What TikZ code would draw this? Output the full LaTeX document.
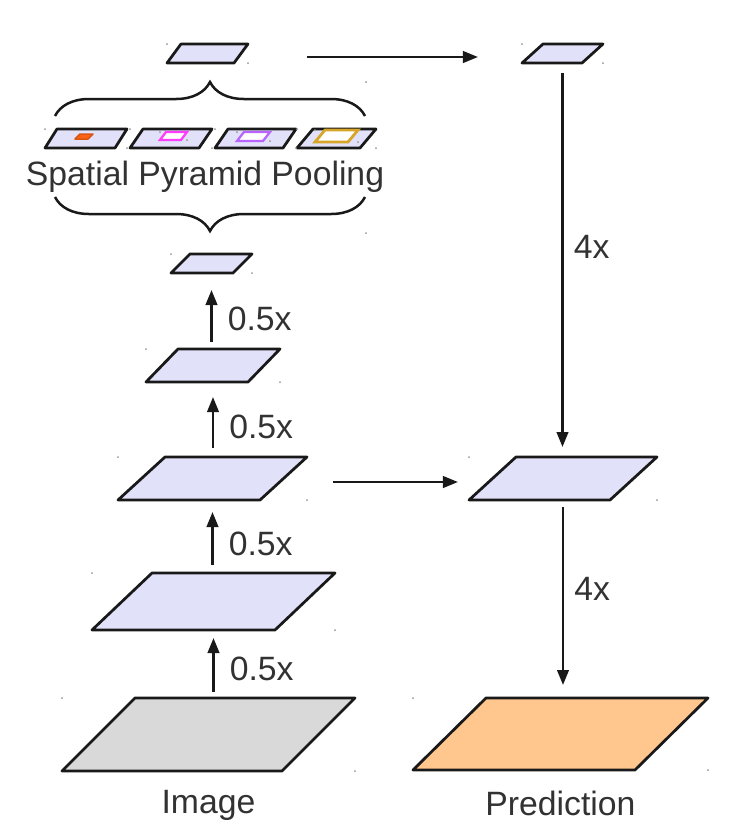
\documentclass[tikz,border=0pt]{standalone}
\usepackage{fontspec}
\setmainfont{Liberation Sans}
\usetikzlibrary{positioning,arrows.meta,decorations.pathreplacing}
\definecolor{featfill}{RGB}{225,225,250}
\definecolor{imgfill}{RGB}{217,217,217}
\definecolor{predfill}{RGB}{255,198,142}
\definecolor{edgec}{RGB}{25,25,25}
\definecolor{txtc}{RGB}{50,50,50}
\definecolor{dotc}{RGB}{150,150,150}
\definecolor{binA}{RGB}{255,100,20}
\definecolor{binB}{RGB}{255,60,255}
\definecolor{binC}{RGB}{185,100,255}
\definecolor{binD}{RGB}{215,165,40}

\begin{document}
\begin{tikzpicture}[x=0.2mm,y=-0.2mm,
    lay/.style={inner sep=0pt,outer sep=0pt},
    arr/.style={draw=edgec,line width=0.5mm,-{Triangle[length=3mm,width=2.3mm]}},
    lbl/.style={text=txtc,font=\fontsize{19.2}{23}\selectfont,inner sep=0pt},
    brc/.style={draw=edgec,line width=0.5mm,decorate,decoration={brace,amplitude=6.8mm}}]
    \useasboundingbox (0,0) rectangle (750,836);

    % encoder column
    \node[lay,minimum width=58.6mm,minimum height=14.6mm] (img) at (208.5,734.5){};
    \node[lay,minimum width=48.6mm,minimum height=11.4mm] (f1) at (213.5,601.5){};
    \node[lay,minimum width=37.8mm,minimum height=8.6mm] (f2) at (212.5,478.5){};
    \node[lay,minimum width=26.8mm,minimum height=6.6mm] (f3) at (213,365.5){};
    \node[lay,minimum width=16.2mm,minimum height=3.8mm] (f4) at (211.5,263.5){};
    \node[lay,minimum width=16.2mm,minimum height=3.8mm] (pool) at (207.5,53.5){};

    % pyramid bins
    \node[lay,minimum width=16.4mm,minimum height=3.8mm] (s1) at (86,138.5){};
    \node[lay,minimum width=16.4mm,minimum height=3.8mm] (s2) at (171,138.5){};
    \node[lay,minimum width=16.2mm,minimum height=3.8mm] (s3) at (255.5,138.5){};
    \node[lay,minimum width=15.8mm,minimum height=3.8mm] (s4) at (336.5,138.5){};
    \node[lay,minimum width=3.6mm,minimum height=1mm] (b1) at (84,136.5){};
    \node[lay,minimum width=5.4mm,minimum height=1.6mm] (b2) at (173.5,136){};
    \node[lay,minimum width=6.6mm,minimum height=1.8mm] (b3) at (253.5,136.5){};
    \node[lay,minimum width=8.6mm,minimum height=2.4mm] (b4) at (336.5,136){};

    % decoder column
    \node[lay,minimum width=16.2mm,minimum height=3.8mm] (tr) at (562.5,53.5){};
    \node[lay,minimum width=37.6mm,minimum height=8.6mm] (mr) at (563,478.5){};
    \node[lay,minimum width=59mm,minimum height=14.4mm] (pred) at (560.5,734){};

    \foreach \n/\l/\c in {img/220/imgfill,f1/183/featfill,f2/142/featfill,f3/102/featfill,
        f4/62/featfill,pool/67/featfill,s1/70/featfill,s2/69/featfill,s3/68/featfill,
        s4/63/featfill,tr/60/featfill,mr/141/featfill,pred/222/predfill}
        \draw[edgec,line width=0.55mm,line join=round,fill=\c]
            (\n.south west) -- ++(\l,0) -- (\n.north east) -- ++(-\l,0) -- cycle;

    \fill[binA,draw=binA!85!black,line width=0.3mm,line join=round] (b1.south west) -- ++(13,0) -- (b1.north east) -- ++(-13,0) -- cycle;
    \draw[binB,fill=white,line width=0.45mm] (b2.south west) -- ++(21,0) -- (b2.north east) -- ++(-21,0) -- cycle;
    \draw[binC,fill=white,line width=0.45mm] (b3.south west) -- ++(26,0) -- (b3.north east) -- ++(-26,0) -- cycle;
    \draw[binD,fill=white,line width=0.55mm] (b4.south west) -- ++(33,0) -- (b4.north east) -- ++(-33,0) -- cycle;

    \foreach \n in {img,f1,f2,f3,f4,pool,s1,s2,s3,s4,b2,b3,b4,tr,mr,pred}{
        \fill[dotc] (\n.north west) circle(0.2mm);
        \fill[dotc] (\n.south east) circle(0.2mm);
    }

    \draw[brc] (55,116) -- (365,116);
    \draw[brc] (365,197) -- (55,197);
    \fill[dotc] (366,82) circle(0.2mm);
    \fill[dotc] (366,233) circle(0.2mm);

    \node[lbl] (spp) at (205,177) {Spatial Pyramid Pooling};
    \node[lbl,below=3.8mm of img] (imgtxt) {Image};
    \node[lbl,below=4.2mm of pred] (predtxt) {Prediction};

    \draw[arr,shorten <=1.2mm,shorten >=1.6mm] (img.north -| f1.south) -- (f1.south)
        node[lbl,pos=0.43,right=3mm] (r1) {0.5x};
    \draw[arr,shorten <=1.6mm,shorten >=2.4mm] (f1.north -| f2.south) -- (f2.south)
        node[lbl,pos=0.4,right=3mm] (r2) {0.5x};
    \draw[arr,shorten <=1.8mm,shorten >=3mm] (f2.north -| f3.south) -- (f3.south)
        node[lbl,pos=0.4,right=3mm] (r3) {0.5x};
    \draw[arr,shorten <=1.4mm,shorten >=3.4mm] (f3.north -| f4.south) -- (f4.south)
        node[lbl,pos=0.4,right=3mm] (r4) {0.5x};

    \draw[arr,shorten <=11.8mm,shorten >=8.8mm] ([yshift=-0.7mm]pool.east) -- ([yshift=-0.7mm]tr.west);
    \draw[arr,shorten <=5.2mm,shorten >=2.2mm] ([yshift=-0.7mm]f2.east) -- ([yshift=-0.7mm]mr.west);

    \draw[arr,shorten <=2mm,shorten >=2mm] (tr.south) -- (tr.south |- mr.north)
        node[lbl,pos=0.467,right=2mm] (u1) {4x};
    \draw[arr,shorten <=1.4mm,shorten >=2.6mm] (mr.south) -- (mr.south |- pred.north)
        node[lbl,pos=0.45,right=2mm] (u2) {4x};
\end{tikzpicture}
\end{document}
